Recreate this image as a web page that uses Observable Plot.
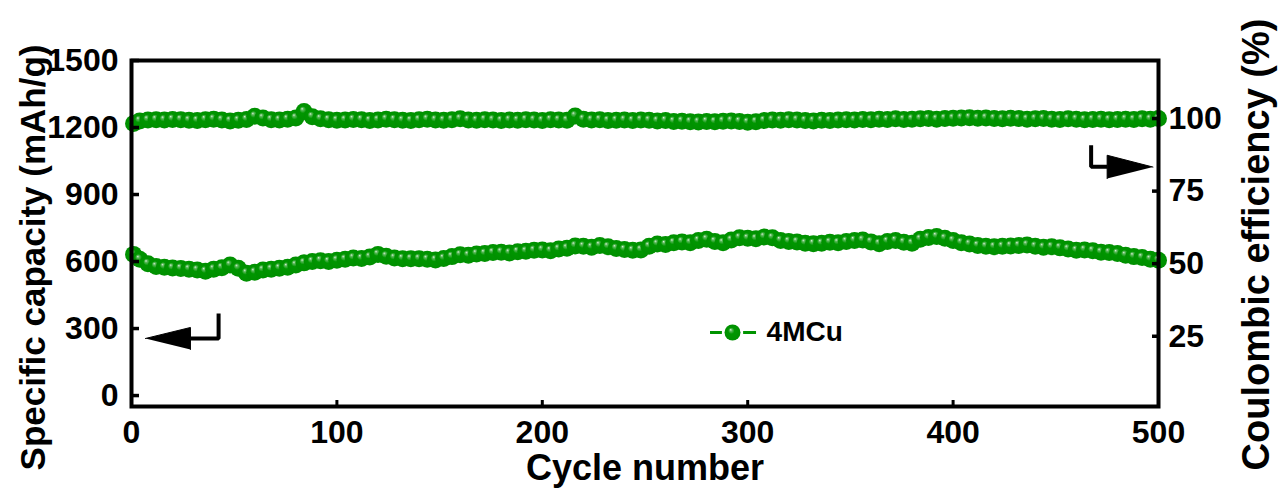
<!DOCTYPE html>
<html>
<head>
<meta charset="utf-8">
<script src="https://cdn.jsdelivr.net/npm/d3@7"></script>
<script src="https://cdn.jsdelivr.net/npm/@observablehq/plot@0.6"></script>
<style>
  html, body { margin: 0; padding: 0; background: #ffffff; }
  #chart { width: 1278px; height: 489px; overflow: hidden; }
</style>
</head>
<body>
<div id="chart"></div>
<script>
// ---------- data ----------
const seriesName = "4MCu";
const xTicks = [0, 100, 200, 300, 400, 500];
const capTicks = [0, 300, 600, 900, 1200, 1500];
const ceTicks = [25, 50, 75, 100];
const capDomain = [-49, 1500];
const ceDomain = [0.8, 120];

// specific capacity (mAh/g) at cycles 1, 4, 8, ..., 500
const capacity = [632,
  610,590,578,574,571,569,566,562,556,566,
  572,584,570,548,552,562,566,570,574,584,
  594,600,604,600,606,610,616,614,620,632,
  624,616,613,612,612,610,607,614,622,630,
  628,634,636,640,642,638,644,646,650,652,
  648,656,660,670,668,664,672,666,658,654,
  650,652,668,678,676,684,688,684,694,700,
  690,684,696,706,704,702,710,706,694,690,
  688,682,680,682,686,684,690,694,696,688,
  680,690,694,686,682,700,708,712,704,694,
  684,678,672,668,666,668,670,672,674,668,
  664,666,662,656,650,652,648,642,640,636,
  628,622,618,610,606];

// coulombic efficiency (%) at the same cycles
const efficiency = [98.3,
  99.2,99.5,99.6,99.5,99.7,99.6,99.4,99.3,99.6,99.8,
  99.5,99.2,99.4,99.7,100.8,100.2,99.6,99.5,99.8,100.2,
  102.4,100.6,99.9,99.6,99.4,99.5,99.7,99.6,99.3,99.5,
  99.8,99.6,99.4,99.3,99.6,99.8,99.5,99.4,99.6,99.9,
  99.5,99.4,99.6,99.5,99.3,99.5,99.4,99.6,99.5,99.3,
  99.6,99.5,99.4,100.9,99.8,99.5,99.6,99.3,99.4,99.5,
  99.3,99.5,99.4,99.2,99.3,99.0,99.1,98.9,98.8,99.0,
  98.9,99.1,99.2,99.0,98.7,98.9,99.3,99.5,99.4,99.6,
  99.5,99.3,99.2,99.4,99.3,99.5,99.6,99.5,99.7,99.6,
  99.8,99.7,99.9,99.7,99.8,99.9,100.0,99.8,100.0,100.1,
  100.2,100.3,100.1,100.2,100.0,99.9,100.1,100.0,99.8,99.9,
  100.0,99.8,99.7,99.9,99.8,99.6,99.7,99.8,99.6,99.7,
  99.8,99.7,99.9,99.8,100.0];

const cycles = capacity.map((_, i) => i === 0 ? 1 : i * 4);

// annotation geometry (cycle, capacity units)
const leftArrowHead = [{x: 6.8, y: 255.5}, {x: 28.7, y: 304.8}, {x: 28.7, y: 206.2}];
const leftArrowStem = [{x: 28.7, y: 255.5}, {x: 42.4, y: 255.5}, {x: 42.4, y: 367.5}];
const rightArrowHead = [{x: 497.3, y: 1023}, {x: 475, y: 1075.8}, {x: 475, y: 971.3}];
const rightArrowStem = [{x: 467.2, y: 1120.6}, {x: 467.2, y: 1024}, {x: 475, y: 1024}];
const legendPos = {x: 292.6, y: 282.4, x1: 281.9, x2: 287.7, x3: 298.0, x4: 304.3, tx: 309.2};

// ---------- build ----------
const ce2cap = d3.scaleLinear(ceDomain, capDomain);
const capData = cycles.map((c, i) => ({cycle: c, value: capacity[i]}));
const ceData = cycles.map((c, i) => ({cycle: c, value: ce2cap(efficiency[i])}));

const green = "#009300";
const ball = "url(#ballGrad)";
const font = "'Liberation Sans', Arial, Helvetica, sans-serif";

const plot = Plot.plot({
  width: 1278,
  height: 489,
  marginLeft: 131,
  marginRight: 120,
  marginTop: 60,
  marginBottom: 83,
  style: {fontFamily: font, fontWeight: "bold", fontSize: "32px", color: "#000", background: "#fff", overflow: "visible"},
  x: {domain: [0, 500]},
  y: {domain: capDomain},
  marks: [
    Plot.dot(capData, {x: "cycle", y: "value", r: 8.5, fill: ball, stroke: "none"}),
    Plot.dot(ceData, {x: "cycle", y: "value", r: 8.5, fill: ball, stroke: "none"}),
    Plot.frame({stroke: "#000", strokeWidth: 4}),
    Plot.axisX({ticks: xTicks, tickSize: -6, tickPadding: 20, strokeWidth: 3, label: null, tickFormat: d => String(d), fontSize: 32, fontFamily: font}),
    Plot.axisY({anchor: "left", ticks: capTicks, tickSize: -8, tickPadding: 21, strokeWidth: 3.5, label: null, tickFormat: d => String(d), fontSize: 32, fontFamily: font}),
    Plot.axisY(ceTicks.map(t => ce2cap(t)), {anchor: "right", tickSize: -7, tickPadding: 17, strokeWidth: 3.5, label: null, tickFormat: d => String(Math.round(ce2cap.invert(d))), fontSize: 32, fontFamily: font}),
    // axis titles
    Plot.text(["Cycle number"], {frameAnchor: "bottom", dy: 62, textAnchor: "middle", lineAnchor: "middle", fontSize: 36, fontWeight: "bold", fontFamily: font}),
    Plot.text(["Specific capacity (mAh/g)"], {frameAnchor: "left", rotate: -90, dx: -98, dy: 24, textAnchor: "middle", lineAnchor: "middle", fontSize: 35, fontWeight: "bold", fontFamily: font}),
    Plot.text(["Coulombic efficiency (%)"], {frameAnchor: "right", rotate: -90, dx: 98, dy: 11, textAnchor: "middle", lineAnchor: "middle", fontSize: 38, fontWeight: "bold", fontFamily: font}),
    // arrows
    Plot.line(leftArrowStem, {x: "x", y: "y", stroke: "#000", strokeWidth: 4, strokeLinejoin: "miter", strokeLinecap: "butt"}),
    Plot.line(leftArrowHead, {x: "x", y: "y", fill: "#000", stroke: "#000", strokeWidth: 1}),
    Plot.line(rightArrowStem, {x: "x", y: "y", stroke: "#000", strokeWidth: 4, strokeLinejoin: "miter", strokeLinecap: "butt"}),
    Plot.line(rightArrowHead, {x: "x", y: "y", fill: "#000", stroke: "#000", strokeWidth: 1}),
    // legend
    Plot.ruleY([legendPos.y], {x1: legendPos.x1, x2: legendPos.x2, stroke: green, strokeWidth: 3}),
    Plot.ruleY([legendPos.y], {x1: legendPos.x3, x2: legendPos.x4, stroke: green, strokeWidth: 3}),
    Plot.dot([legendPos], {x: "x", y: "y", r: 8, fill: ball}),
    Plot.text([legendPos], {x: "tx", y: "y", text: () => seriesName, textAnchor: "start", fontSize: 28, fontWeight: "bold", fill: "#000", fontFamily: font})
  ]
});

// radial gradient for the glossy ball markers
const svgNS = "http://www.w3.org/2000/svg";
const defs = document.createElementNS(svgNS, "defs");
defs.innerHTML = `<radialGradient id="ballGrad" cx="0.5" cy="0.5" r="0.5" fx="0.38" fy="0.32">
  <stop offset="0" stop-color="#d8f4d8"/>
  <stop offset="0.15" stop-color="#5cb85c"/>
  <stop offset="0.4" stop-color="#009600"/>
  <stop offset="1" stop-color="#008f00"/>
</radialGradient>`;
plot.insertBefore(defs, plot.firstChild);
document.getElementById("chart").appendChild(plot);
</script>
</body>
</html>
